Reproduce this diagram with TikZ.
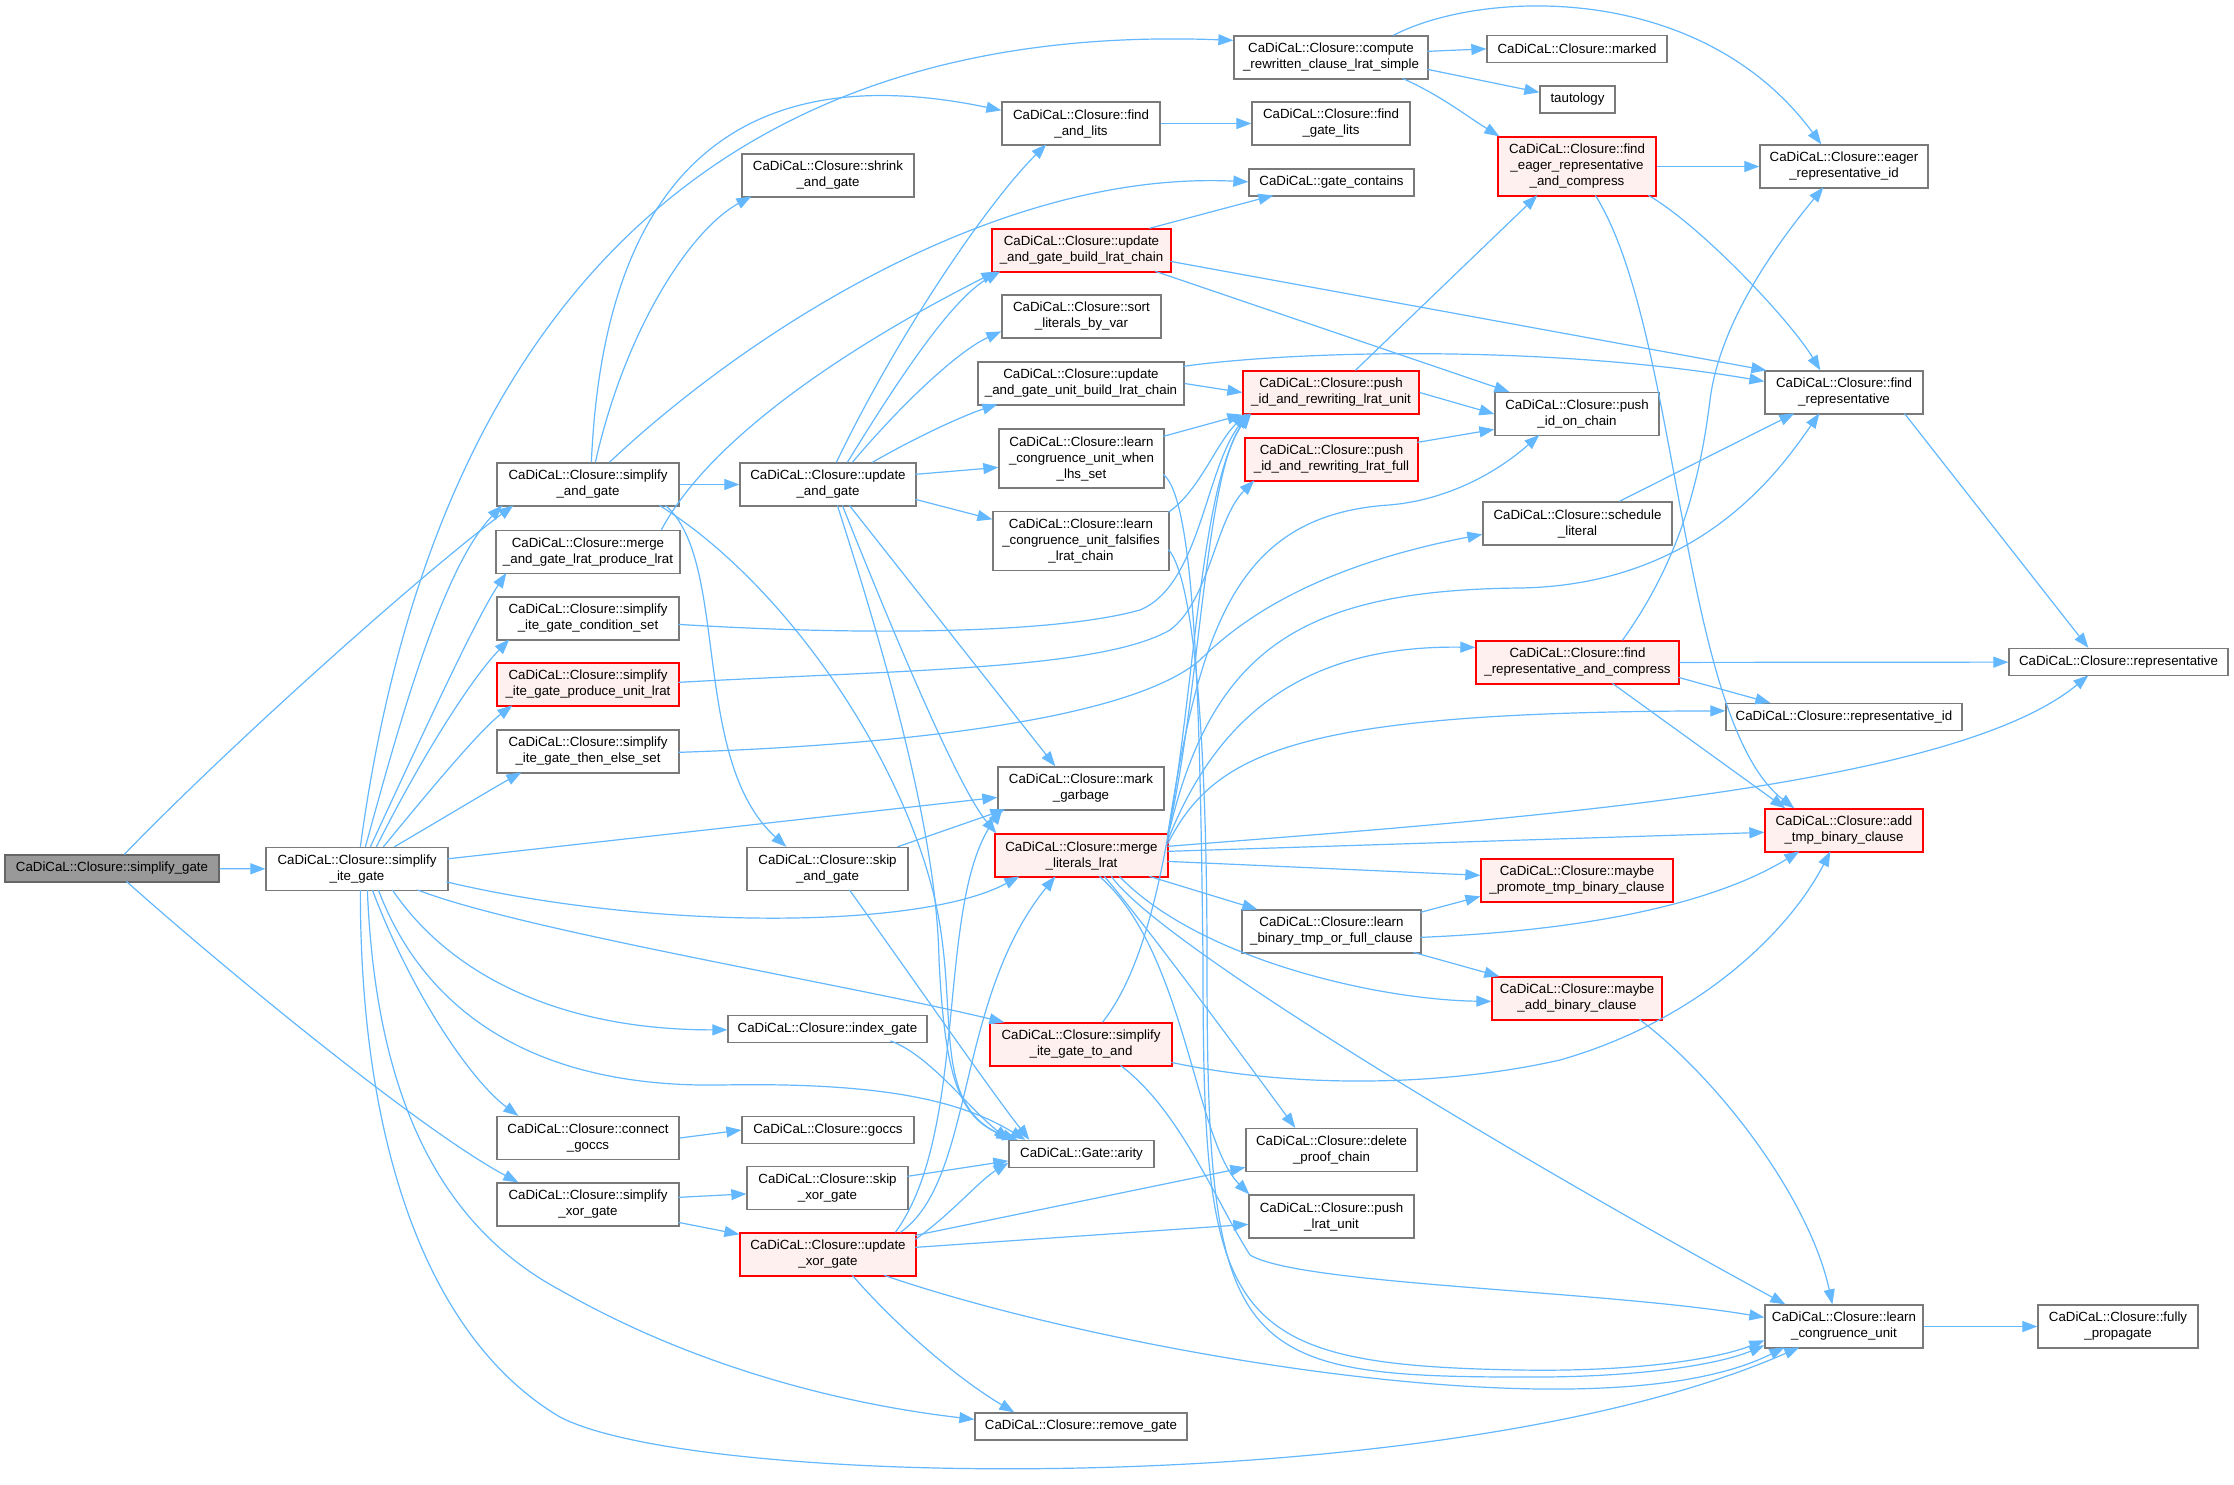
\documentclass[tikz,border=0pt]{standalone}
\usepackage{fontspec}
\setmainfont{Liberation Sans}
\usetikzlibrary{arrows.meta,calc}
\definecolor{edgec}{HTML}{63B8FF}
\definecolor{nodeb}{HTML}{7A7A7A}
\definecolor{redb}{HTML}{FF0000}
\definecolor{redf}{HTML}{FFF0F0}
\definecolor{rootf}{HTML}{999999}
\definecolor{rootb}{HTML}{666666}
\newcommand{\nf}{\fontsize{13.3}{16}\selectfont}
\begin{document}
\begin{tikzpicture}[x=1pt,y=-1pt,
  nn/.style={draw=nodeb, fill=white, line width=1.3pt, inner sep=0pt, align=center, font=\nf, minimum height=43pt},
  rn/.style={nn, draw=redb, fill=redf},
  rootn/.style={nn, draw=rootb, fill=rootf},
  bw/.style={minimum width=#1pt},
  h1/.style={minimum height=27pt},
  h3/.style={minimum height=59pt},
  e/.style={draw=edgec, line width=1.2pt, -{Triangle[length=15pt,width=11pt]}}]
\fill[white] (0,0) rectangle (2234,1484);
\useasboundingbox (0,0) rectangle (2234,1484);

% nodes
\node[rootn,bw=214,h1] (SG) at (112,868.5) {CaDiCaL::Closure::simplify\_gate};
\node[nn,bw=182] (SIG) at (357,869) {CaDiCaL::Closure::simplify\\\_ite\_gate};
\node[nn,bw=182] (SAG) at (588,484.5) {CaDiCaL::Closure::simplify\\\_and\_gate};
\node[nn,bw=184] (MAG) at (588,552) {CaDiCaL::Closure::merge\\\_and\_gate\_lrat\_produce\_lrat};
\node[nn,bw=182] (CS) at (588,618.5) {CaDiCaL::Closure::simplify\\\_ite\_gate\_condition\_set};
\node[rn,bw=182] (PU) at (588,684.5) {CaDiCaL::Closure::simplify\\\_ite\_gate\_produce\_unit\_lrat};
\node[nn,bw=182] (TE) at (588,751.5) {CaDiCaL::Closure::simplify\\\_ite\_gate\_then\_else\_set};
\node[nn,bw=182] (CG) at (588,1138) {CaDiCaL::Closure::connect\\\_goccs};
\node[nn,bw=182] (SXG) at (588,1204.5) {CaDiCaL::Closure::simplify\\\_xor\_gate};
\node[nn,bw=176] (UAG) at (828,484.5) {CaDiCaL::Closure::update\\\_and\_gate};
\node[nn,bw=172] (SH) at (828,175.5) {CaDiCaL::Closure::shrink\\\_and\_gate};
\node[nn,bw=161] (SKA) at (827.5,869) {CaDiCaL::Closure::skip\\\_and\_gate};
\node[nn,bw=199,h1] (IG) at (827.5,1029) {CaDiCaL::Closure::index\_gate};
\node[nn,bw=172,h1] (GO) at (828,1130) {CaDiCaL::Closure::goccs};
\node[nn,bw=161] (SKX) at (827.5,1188) {CaDiCaL::Closure::skip\\\_xor\_gate};
\node[rn,bw=176] (UXG) at (828,1254.5) {CaDiCaL::Closure::update\\\_xor\_gate};
\node[nn,bw=194] (CR) at (1331,57.5) {CaDiCaL::Closure::compute\\\_rewritten\_clause\_lrat\_simple};
\node[nn,bw=158] (FAL) at (1081,123.5) {CaDiCaL::Closure::find\\\_and\_lits};
\node[rn,bw=179] (UBL) at (1081.5,250.5) {CaDiCaL::Closure::update\\\_and\_gate\_build\_lrat\_chain};
\node[nn,bw=159] (SL) at (1081.5,316.5) {CaDiCaL::Closure::sort\\\_literals\_by\_var};
\node[nn,bw=206] (UUB) at (1081,383.5) {CaDiCaL::Closure::update\\\_and\_gate\_unit\_build\_lrat\_chain};
\node[nn,bw=165,h3] (LW) at (1081.5,458.5) {CaDiCaL::Closure::learn\\\_congruence\_unit\_when\\\_lhs\_set};
\node[nn,bw=176,h3] (LF) at (1081,541) {CaDiCaL::Closure::learn\\\_congruence\_unit\_falsifies\\\_lrat\_chain};
\node[nn,bw=166] (MG) at (1081,788.5) {CaDiCaL::Closure::mark\\\_garbage};
\node[rn,bw=173] (ML) at (1081.5,855.5) {CaDiCaL::Closure::merge\\\_literals\_lrat};
\node[rn,bw=182] (ITA) at (1081,1044.5) {CaDiCaL::Closure::simplify\\\_ite\_gate\_to\_and};
\node[nn,bw=145,h1] (AR) at (1081.5,1154) {CaDiCaL::Gate::arity};
\node[nn,bw=212,h1] (RG) at (1081,1426.5) {CaDiCaL::Closure::remove\_gate};
\node[nn,bw=158] (FGL) at (1331,123.5) {CaDiCaL::Closure::find\\\_gate\_lits};
\node[nn,bw=165,h1] (GC) at (1331.5,182.5) {CaDiCaL::gate\_contains};
\node[rn,bw=176] (PIU) at (1331,392.5) {CaDiCaL::Closure::push\\\_id\_and\_rewriting\_lrat\_unit};
\node[rn,bw=173] (PIF) at (1331.5,459.5) {CaDiCaL::Closure::push\\\_id\_and\_rewriting\_lrat\_full};
\node[nn,bw=179] (LB) at (1331.5,931.5) {CaDiCaL::Closure::learn\\\_binary\_tmp\_or\_full\_clause};
\node[nn,bw=171] (DPC) at (1331.5,1150) {CaDiCaL::Closure::delete\\\_proof\_chain};
\node[nn,bw=165] (PLU) at (1331.5,1216.5) {CaDiCaL::Closure::push\\\_lrat\_unit};
\node[nn,bw=180,h1] (MK) at (1577,49) {CaDiCaL::Closure::marked};
\node[nn,bw=75,h1] (TA) at (1577.5,99.5) {tautology};
\node[rn,bw=158,h3] (FEC) at (1577,166.5) {CaDiCaL::Closure::find\\\_eager\_representative\\\_and\_compress};
\node[nn,bw=164] (PIC) at (1577,414) {CaDiCaL::Closure::push\\\_id\_on\_chain};
\node[nn,bw=189] (SCL) at (1577.5,523.5) {CaDiCaL::Closure::schedule\\\_literal};
\node[rn,bw=203] (FRC) at (1577.5,662.5) {CaDiCaL::Closure::find\\\_representative\_and\_compress};
\node[rn,bw=192] (MP) at (1577,880.5) {CaDiCaL::Closure::maybe\\\_promote\_tmp\_binary\_clause};
\node[rn,bw=170] (MAB) at (1577,998.5) {CaDiCaL::Closure::maybe\\\_add\_binary\_clause};
\node[nn,bw=168] (ERI) at (1844,166.5) {CaDiCaL::Closure::eager\\\_representative\_id};
\node[nn,bw=158] (FR) at (1844,392.5) {CaDiCaL::Closure::find\\\_representative};
\node[nn,bw=236,h1] (RID) at (1844,717) {CaDiCaL::Closure::representative\_id};
\node[rn,bw=158] (AT) at (1844,830.5) {CaDiCaL::Closure::add\\\_tmp\_binary\_clause};
\node[nn,bw=158] (LCU) at (1844,1326.5) {CaDiCaL::Closure::learn\\\_congruence\_unit};
\node[nn,bw=219,h1] (REP) at (2118.5,662) {CaDiCaL::Closure::representative};
\node[nn,bw=160] (FP) at (2118,1326.5) {CaDiCaL::Closure::fully\\\_propagate};

% simplify_gate
\draw[e] ($(SG.north west)+(120,0)$) .. controls (230,745) and (420,575) .. ($(SAG.north west)+(17,43)$);
\draw[e] (SG) -- (SIG);
\draw[e] ($(SG.north west)+(122,27)$) .. controls (220,965) and (420,1130) .. ($(SXG.north west)+(22,0)$);

% simplify_ite_gate
\draw[e] ($(SIG.north west)+(100,0)$) .. controls (395,740) and (440,570) .. ($(SAG.north west)+(6,43)$);
\draw[e] ($(SIG.north west)+(105,0)$) .. controls (420,740) and (475,620) .. ($(MAG.north west)+(11,43)$);
\draw[e] ($(SIG.north west)+(111,0)$) .. controls (420,760) and (470,680) .. ($(CS.north west)+(13,43)$);
\draw[e] ($(SIG.north west)+(118,0)$) .. controls (430,790) and (480,730) .. ($(PU.north west)+(16,43)$);
\draw[e] ($(SIG.north west)+(129,0)$) .. controls (440,820) and (490,790) .. ($(TE.north west)+(25,43)$);
\draw[e] ($(SIG.north west)+(95,0)$) .. controls (430,330) and (700,20) .. ($(CR.north west)+(0,5)$);
\draw[e] ($(SIG.north west)+(182,12)$) -- ($(MG.north west)+(0,31)$);
\draw[e] ($(SIG.north west)+(181,35)$) .. controls (650,930) and (920,930) .. ($(ML.north west)+(25,43)$);
\draw[e] ($(SIG.north west)+(152,43)$) .. controls (520,930) and (850,985) .. ($(ITA.north west)+(15,0)$);
\draw[e] ($(SIG.north west)+(127,43)$) .. controls (450,975) and (560,1030) .. ($(IG.north west)+(0,15)$);
\draw[e] ($(SIG.north west)+(113,43)$) .. controls (420,1000) and (520,1088) .. (720,1085) .. controls (880,1082) and (960,1100) .. ($(AR.north west)+(17,0)$);
\draw[e] ($(SIG.north west)+(107,43)$) .. controls (410,990) and (470,1080) .. ($(CG.north west)+(22,0)$);
\draw[e] ($(SIG.north west)+(102,43)$) .. controls (375,1080) and (430,1220) .. (560,1290) .. controls (700,1370) and (850,1405) .. ($(RG.north west)+(0,7)$);
\draw[e] ($(SIG.north west)+(95,43)$) .. controls (360,1150) and (430,1340) .. (560,1417) .. controls (700,1490) and (1450,1500) .. ($(LCU.north west)+(35,43)$);

% simplify_and_gate
\draw[e] (SAG) -- (UAG);
\draw[e] ($(SAG.north west)+(99,0)$) .. controls (625,330) and (690,230) .. ($(SH.north west)+(10,43)$);
\draw[e] ($(SAG.north west)+(113,0)$) .. controls (750,330) and (1000,170) .. ($(GC.north west)+(0,13.5)$);
\draw[e] ($(SAG.north west)+(95,0)$) .. controls (605,150) and (760,60) .. ($(FAL.north west)+(0,9)$);
\draw[e] ($(SAG.north west)+(169,43)$) .. controls (730,560) and (690,760) .. ($(SKA.north west)+(40,0)$);
\draw[e] ($(SAG.north west)+(163,43)$) .. controls (780,580) and (900,750) .. (935,900) .. controls (960,1010) and (930,1100) .. ($(AR.north west)+(3,0)$);

% merge_and_gate
\draw[e] ($(MAG.north west)+(166,0)$) .. controls (720,420) and (900,320) .. ($(UBL.north west)+(5,43)$);

% update_and_gate
\draw[e] ($(UAG.north west)+(97,0)$) .. controls (900,330) and (990,200) .. ($(FAL.north west)+(45,43)$);
\draw[e] ($(UAG.north west)+(108,0)$) .. controls (895,385) and (950,300) .. ($(UBL.north west)+(9,43)$);
\draw[e] ($(UAG.north west)+(113,0)$) .. controls (905,400) and (960,350) .. ($(SL.north west)+(0,37)$);
\draw[e] ($(UAG.north west)+(133,0)$) .. controls (920,435) and (965,415) .. ($(UUB.north west)+(20,43)$);
\draw[e] ($(UAG.north west)+(176,12)$) -- ($(LW.north west)+(0,39)$);
\draw[e] ($(UAG.north west)+(176,37)$) -- ($(LF.north west)+(0,8.5)$);
\draw[e] ($(UAG.north west)+(110,43)$) -- ($(MG.north west)+(58,0)$);
\draw[e] ($(UAG.north west)+(103,43)$) .. controls (900,650) and (960,790) .. ($(ML.north west)+(2,0)$);
\draw[e] ($(UAG.north west)+(98,43)$) .. controls (900,700) and (937,850) .. (939,960) .. controls (945,1080) and (960,1120) .. ($(AR.north west)+(9,0)$);

% left column to middle
\draw[e] ($(CS.north west)+(182,28)$) .. controls (850,635) and (1050,635) .. (1140,610) .. controls (1200,585) and (1205,470) .. ($(PIU.north west)+(6,43)$);
\draw[e] ($(PU.north west)+(182,20)$) .. controls (900,670) and (1100,670) .. (1170,630) .. controls (1210,600) and (1215,520) .. ($(PIF.north west)+(10,43)$);
\draw[e] ($(TE.north west)+(182,23)$) .. controls (900,745) and (1130,720) .. (1200,660) .. controls (1260,600) and (1350,560) .. ($(SCL.north west)+(0,33)$);

% column 3
\draw[e] ($(UBL.north west)+(158,0)$) -- ($(GC.north west)+(25,27)$);
\draw[e] ($(UBL.north west)+(179,33)$) -- ($(FR.north west)+(2,0)$);
\draw[e] ($(UBL.north west)+(164,43)$) -- ($(PIC.north west)+(15,0)$);
\draw[e] (UUB.east) -- (PIU.west);
\draw[e] ($(UUB.north west)+(206,5)$) .. controls (1300,350) and (1550,345) .. ($(FR.north west)+(0,11)$);
\draw[e] ($(LW.north west)+(165,8)$) -- (PIU.south west);
\draw[e] ($(LF.north west)+(176,1.5)$) .. controls (1200,490) and (1215,445) .. ($(PIU.north west)+(4,43)$);
\draw[e] ($(LW.north west)+(165,46)$) .. controls (1195,500) and (1200,700) .. (1203,960) .. controls (1203,1320) and (1220,1365) .. (1520,1370) .. controls (1640,1372) and (1720,1358) .. ($(LCU.north west)+(0,36)$);
\draw[e] ($(LF.north west)+(176,38.5)$) .. controls (1195,580) and (1207,750) .. (1207,960) .. controls (1207,1350) and (1230,1377) .. (1520,1377) .. controls (1640,1378) and (1720,1364) .. ($(LCU.north west)+(0,41)$);
\draw[e] (FAL) -- (FGL);
\draw[e] ($(ITA.north west)+(113,0)$) .. controls (1200,900) and (1180,520) .. ($(PIU.north west)+(7,43)$);
\draw[e] ($(ITA.north west)+(182,40)$) .. controls (1300,1090) and (1450,1085) .. (1560,1060) .. controls (1700,1020) and (1790,930) .. ($(AT.north west)+(66,43)$);
\draw[e] ($(ITA.north west)+(131,43)$) .. controls (1180,1110) and (1215,1200) .. (1250,1255) .. controls (1300,1285) and (1600,1290) .. ($(LCU.north west)+(0,13)$);
\draw[e] ($(SKA.north west)+(151,0)$) -- ($(MG.north west)+(8,43)$);
\draw[e] ($(SKA.north west)+(103,43)$) .. controls (900,960) and (990,1090) .. ($(AR.north west)+(21,0)$);
\draw[e] ($(IG.north west)+(163,26)$) .. controls (930,1055) and (970,1110) .. ($(AR.north west)+(1,0)$);
\draw[e] (CG.east) -- (GO.west);
\draw[e] ($(SXG.north west)+(182,15)$) -- ($(SKX.north west)+(0,28)$);
\draw[e] ($(SXG.north west)+(182,40)$) -- ($(UXG.north west)+(0,2)$);
\draw[e] ($(SKX.north west)+(161,10.5)$) -- ($(AR.north west)+(0,21)$);

% update_xor_gate
\draw[e] ($(UXG.north west)+(161,0)$) .. controls (975,1180) and (955,1000) .. ($(ML.north west)+(61,43)$);
\draw[e] ($(UXG.north west)+(176,7)$) .. controls (950,1215) and (980,1180) .. ($(AR.north west)+(0,23)$);
\draw[e] ($(UXG.north west)+(156,0)$) .. controls (970,1130) and (935,900) .. ($(MG.north west)+(5,43)$);
\draw[e] ($(UXG.north west)+(176,3)$) -- ($(DPC.north west)+(0,39.5)$);
\draw[e] ($(UXG.north west)+(176,15)$) -- ($(PLU.north west)+(0,30)$);
\draw[e] ($(UXG.north west)+(145,43)$) .. controls (1100,1350) and (1600,1440) .. ($(LCU.north west)+(20,43)$);
\draw[e] ($(UXG.north west)+(113,43)$) .. controls (900,1330) and (960,1380) .. ($(RG.north west)+(40,0)$);

% merge_literals_lrat
\draw[e] ($(ML.north west)+(173,2)$) .. controls (1200,700) and (1205,470) .. ($(PIU.north west)+(9,43)$);
\draw[e] ($(ML.north west)+(173,4)$) .. controls (1200,620) and (1240,515) .. (1389,505) .. controls (1450,500) and (1500,470) .. ($(PIC.north west)+(45,43)$);
\draw[e] ($(ML.north west)+(173,6)$) .. controls (1210,650) and (1300,590) .. (1520,588) .. controls (1700,585) and (1780,470) .. ($(FR.north west)+(55,43)$);
\draw[e] ($(ML.north west)+(173,8)$) .. controls (1215,720) and (1300,645) .. ($(FRC.north west)+(0,7)$);
\draw[e] ($(ML.north west)+(173,11)$) .. controls (1215,750) and (1300,712) .. ($(RID.north west)+(0,8)$);
\draw[e] ($(ML.north west)+(173,13)$) .. controls (1500,820) and (1950,790) .. ($(REP.north west)+(80,27.5)$);
\draw[e] ($(ML.north west)+(173,18)$) -- ($(AT.north west)+(0,24)$);
\draw[e] ($(ML.north west)+(173,28)$) -- ($(MP.north west)+(0,17)$);
\draw[e] ($(ML.north west)+(155,43)$) -- ($(LB.north west)+(16,0)$);
\draw[e] ($(ML.north west)+(125,43)$) .. controls (1200,960) and (1380,1000) .. ($(MAB.north west)+(0,25)$);
\draw[e] ($(ML.north west)+(110,43)$) .. controls (1150,930) and (1260,1080) .. ($(DPC.north west)+(50,0)$);
\draw[e] ($(ML.north west)+(105,43)$) .. controls (1185,950) and (1195,1140) .. ($(PLU.north west)+(1,0)$);
\draw[e] ($(ML.north west)+(117,43)$) .. controls (1160,945) and (1520,1160) .. ($(LCU.north west)+(21,0)$);

% column 4 and 5
\draw[e] (PIU.east) -- (PIC.west);
\draw[e] ($(PIU.north west)+(113,0)$) -- ($(FEC.north west)+(40,59)$);
\draw[e] ($(PIF.north west)+(173,5)$) -- ($(PIC.north west)+(0,37.5)$);
\draw[e] ($(CR.north west)+(194,16)$) -- ($(MK.north west)+(0,14)$);
\draw[e] ($(CR.north west)+(194,34)$) -- ($(TA.north west)+(0,7)$);
\draw[e] ($(CR.north west)+(169,43)$) .. controls (1440,95) and (1465,115) .. ($(FEC.north west)+(2,0)$);
\draw[e] ($(CR.north west)+(160,0)$) .. controls (1480,-10) and (1700,-20) .. ($(ERI.north west)+(62,0)$);
\draw[e] (FEC) -- (ERI);
\draw[e] ($(FEC.north west)+(151,59)$) .. controls (1700,225) and (1790,320) .. ($(FR.north west)+(56,0)$);
\draw[e] ($(FEC.north west)+(98,59)$) .. controls (1680,330) and (1680,720) .. ($(AT.north west)+(30,0)$);
\draw[e] ($(FR.north west)+(140,43)$) -- ($(REP.north west)+(80,0)$);
\draw[e] ($(SCL.north west)+(137,0)$) -- ($(FR.north west)+(30,43)$);
\draw[e] ($(FRC.north west)+(147,0)$) .. controls (1680,560) and (1700,480) .. (1710,400) .. controls (1720,320) and (1780,240) .. ($(ERI.north west)+(64,43)$);
\draw[e] (FRC) -- (REP);
\draw[e] ($(FRC.north west)+(203,37)$) -- ($(RID.north west)+(45,0)$);
\draw[e] ($(FRC.north west)+(137,43)$) -- ($(AT.north west)+(21,0)$);
\draw[e] ($(LB.north west)+(179,3)$) -- ($(MP.north west)+(0,38)$);
\draw[e] ($(LB.north west)+(179,28)$) .. controls (1600,930) and (1720,900) .. ($(AT.north west)+(35,43)$);
\draw[e] ($(LB.north west)+(172,43)$) -- ($(MAB.north west)+(8,0)$);
\draw[e] ($(MAB.north west)+(148,43)$) .. controls (1720,1080) and (1810,1200) .. ($(LCU.north west)+(68,0)$);
\draw[e] (LCU) -- (FP);
\end{tikzpicture}
\end{document}
